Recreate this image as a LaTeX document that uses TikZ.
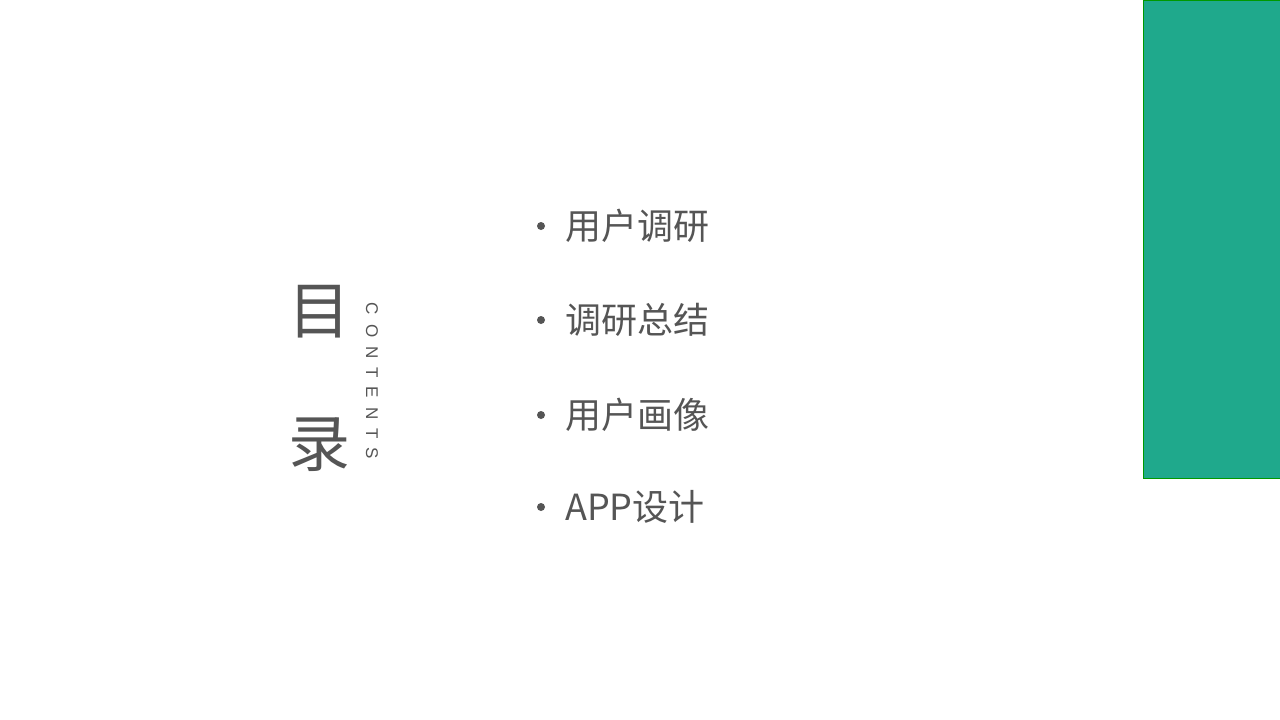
\documentclass[tikz,border=0pt]{standalone}
\usepackage{fontspec}
\newfontfamily\cjk{Noto Sans CJK SC}
\setmainfont{Liberation Sans}
\definecolor{txt}{HTML}{555555}
\definecolor{grn}{HTML}{1FA98C}
\begin{document}
\begin{tikzpicture}[x=1pt,y=-1pt,
  item/.style={anchor=west,text=txt,font=\cjk\fontsize{36}{40}\selectfont,inner sep=0},
  dot/.style={circle,fill=txt,inner sep=0,minimum size=8pt}]
\useasboundingbox (0,0) rectangle (1280,720);
\fill[white] (0,0) rectangle (1280,720);
\draw[fill=grn,draw=green!60!black,line width=0.8pt] (1143,0) rectangle (1280,478);
\node[text=txt,font=\cjk\fontsize{62}{62}\selectfont,inner sep=0] (mu) at (319,312) {目};
\node[text=txt,font=\cjk\fontsize{62}{62}\selectfont,inner sep=0] (lu) at (319,445) {录};
\node[text=txt,font=\fontsize{17}{17}\selectfont,rotate=-90,inner sep=0] (ct) at (372,381) {C\hspace{9pt}O\hspace{9pt}N\hspace{9pt}T\hspace{9pt}E\hspace{9pt}N\hspace{9pt}T\hspace{9pt}S};
\foreach \y/\t [count=\i] in {226/用户调研,320/调研总结,415/用户画像,507/APP设计}{
  \node[dot] (d\i) at (541,\y) {};
  \node[item] (t\i) at (565,\y) {\t};
}
\end{tikzpicture}
\end{document}
